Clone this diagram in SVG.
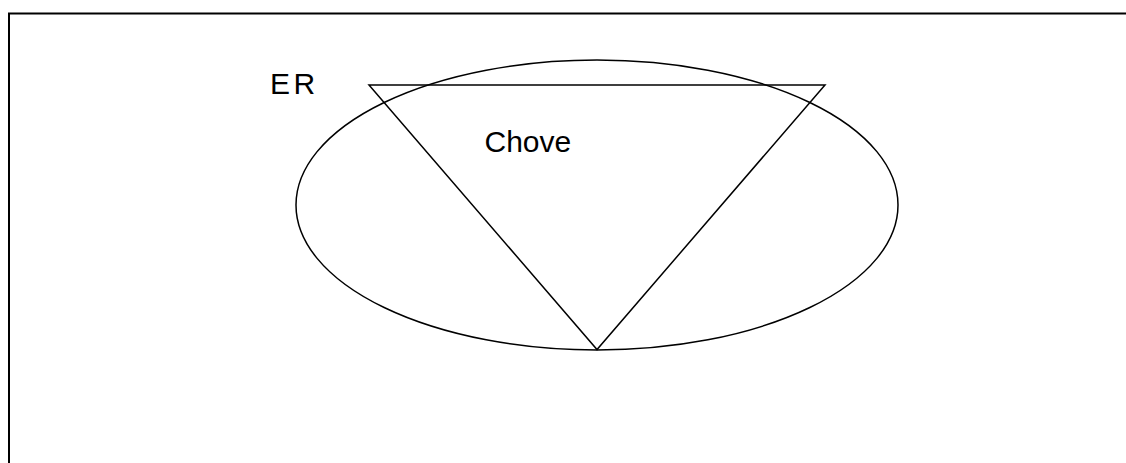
<svg xmlns="http://www.w3.org/2000/svg" width="1126" height="463" viewBox="0 0 1126 463">
<style>
.s{fill:none;stroke:#000;stroke-width:1.5}
.t{font-family:"Liberation Sans",Arial,sans-serif;font-size:30px;fill:#000}
</style>
<rect width="1126" height="463" fill="#fff"/>
<path d="M9,463 V13.5 H1126" fill="none" stroke="#000" stroke-width="2"/>
<g id="ellipse"><ellipse class="s" cx="597" cy="205" rx="301" ry="145"/></g>
<g id="triangle"><polygon class="s" points="369,85 825,85 597,349.5"/></g>
<g id="label-er"><text class="t" x="270" y="93.5" letter-spacing="3.5">ER</text></g>
<g id="label-chove"><text class="t" x="484.5" y="151.5">Chove</text></g>
<g id="connectors"></g>
</svg>
